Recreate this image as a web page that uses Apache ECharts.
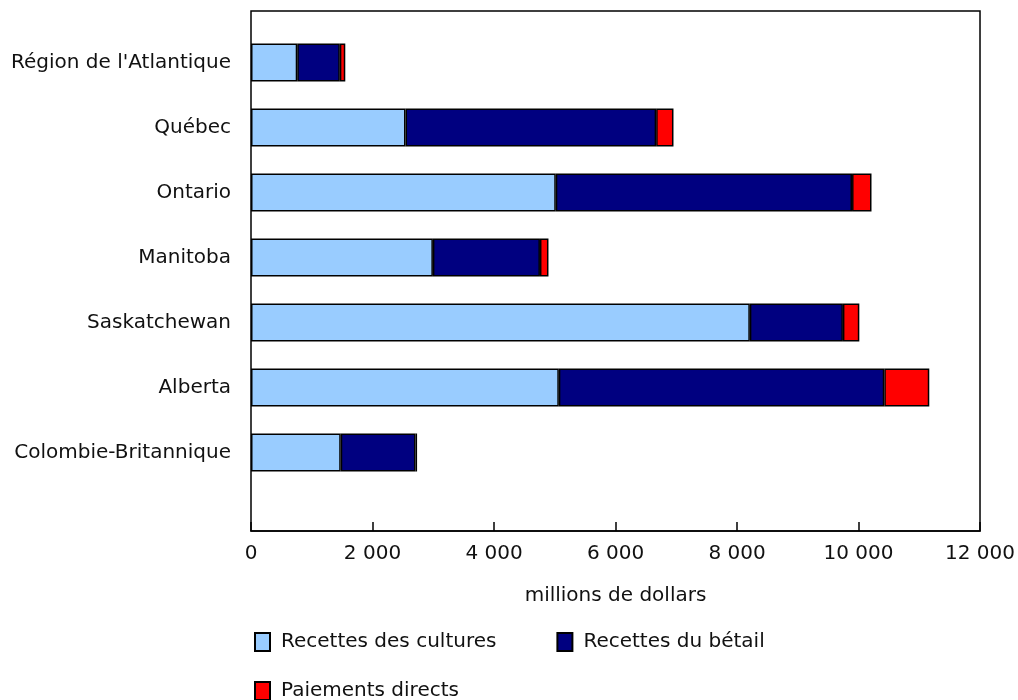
<!DOCTYPE html>
<html>
<head>
<meta charset="utf-8">
<script src="https://cdn.jsdelivr.net/npm/echarts@6/dist/echarts.min.js"></script>
<style>
html,body{margin:0;padding:0;background:#fff;}
#chart{width:1018px;height:700px;}
</style>
</head>
<body>
<div id="chart"></div>
<script>
const categories = ["Région de l'Atlantique", "Québec", "Ontario", "Manitoba", "Saskatchewan", "Alberta", "Colombie-Britannique"];
const seriesNames = ["Recettes des cultures", "Recettes du bétail", "Paiements directs"];
const crops = [760, 2540, 5010, 2990, 8200, 5060, 1475];
const livestock = [700, 4120, 4870, 1760, 1530, 5350, 1230];
const directPayments = [90, 285, 320, 140, 270, 740, 25];
const xTicks = [0, 2000, 4000, 6000, 8000, 10000, 12000];
const axisTitle = "millions de dollars";

const FONT = "'DejaVu Sans', Verdana, sans-serif";
const FS = 20;
const colors = ["#99CCFF", "#000080", "#FF0000"];

function fmt(v){ return String(v).replace(/\B(?=(\d{3})+(?!\d))/g, ' '); }

const chart = echarts.init(document.getElementById('chart'), null, {renderer:'canvas'});
const values = [crops, livestock, directPayments];
const option = {
  backgroundColor: '#fff',
  animation: false,
  textStyle: {fontFamily: FONT},
  grid: [
    {left: 251, width: 730, top: 11, height: 520, show: true, borderColor: '#000', borderWidth: 1.5, backgroundColor: 'transparent'},
    {left: 251, width: 730, top: 30, height: 455}
  ],
  xAxis: [
    {gridIndex: 0, type: 'value', min: xTicks[0], max: xTicks[xTicks.length-1], interval: xTicks[1]-xTicks[0],
     axisLine: {show: true, lineStyle: {color: '#000', width: 1.5}},
     axisTick: {show: true, inside: true, length: 9, lineStyle: {color: '#000', width: 1.5}},
     axisLabel: {color: '#111', fontSize: FS, fontFamily: FONT, margin: 13, formatter: fmt},
     splitLine: {show: false},
     name: axisTitle, nameLocation: 'middle', nameGap: 55,
     nameTextStyle: {color: '#111', fontSize: FS, fontFamily: FONT}},
    {gridIndex: 1, type: 'value', min: xTicks[0], max: xTicks[xTicks.length-1], show: false}
  ],
  yAxis: [
    {gridIndex: 0, type: 'value', min: 0, max: 1, show: false},
    {gridIndex: 1, type: 'category', data: categories, inverse: true,
     axisLine: {show: false}, axisTick: {show: false},
     axisLabel: {color: '#111', fontSize: FS, fontFamily: FONT, margin: 20}}
  ],
  legend: [
    {data: [seriesNames[0], seriesNames[1]], left: 249, top: 627, orient: 'horizontal',
     itemWidth: 15, itemHeight: 18, itemGap: 60, icon: 'rect',
     textStyle: {color: '#111', fontSize: FS, fontFamily: FONT, padding: [0,0,0,6]}},
    {data: [seriesNames[2]], left: 249, top: 676, orient: 'horizontal',
     itemWidth: 15, itemHeight: 18, icon: 'rect',
     textStyle: {color: '#111', fontSize: FS, fontFamily: FONT, padding: [0,0,0,6]}}
  ],
  series: seriesNames.map((n, i) => ({
    name: n, type: 'bar', stack: 'total', xAxisIndex: 1, yAxisIndex: 1,
    data: values[i], barWidth: 38,
    itemStyle: {color: colors[i], borderColor: '#000', borderWidth: 1.5}
  }))
};
chart.setOption(option);
</script>
</body>
</html>
